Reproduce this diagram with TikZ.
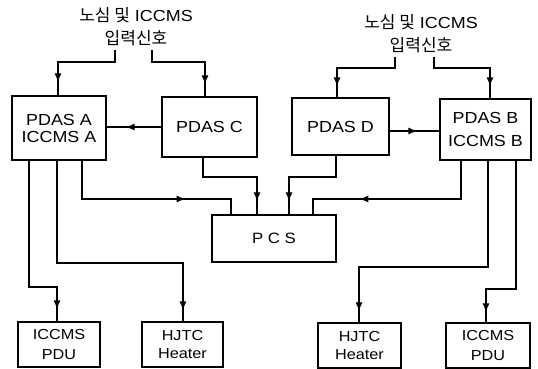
\documentclass[tikz,border=0pt]{standalone}
\usepackage{fontspec}
\setmainfont{Liberation Sans}[FakeStretch=1.12]
\newfontfamily\kr{Noto Sans CJK KR}
\usetikzlibrary{arrows.meta,decorations.markings}
\begin{document}
\begin{tikzpicture}[x=1pt,y=-1pt,
 box/.style={draw, line width=1.3pt, inner sep=0pt, align=center, font=\fontsize{16}{17}\selectfont},
 smallbox/.style={box, font=\fontsize{14.5}{20}\selectfont},
 conn/.style={line width=1.2pt},
 arrowat/.style={postaction={decorate}, decoration={markings, mark=at position #1 with {\arrow{Latex[length=9pt,width=7pt]}}}},
 lbl/.style={align=center, inner sep=0pt, font=\fontsize{16}{23}\selectfont}]
\useasboundingbox (0,0) rectangle (538,369);

% input labels
\node[lbl] (inL) at (136,27) {{\kr\fontsize{17}{23}\selectfont 노심 및} ICCMS\\{\kr\fontsize{17}{23}\selectfont 입력신호}};
\node[lbl] (inR) at (421,33.5) {{\kr\fontsize{17}{23}\selectfont 노심 및} ICCMS\\{\kr\fontsize{17}{23}\selectfont 입력신호}};
\coordinate (inLa) at (115,50);
\coordinate (inLb) at (152,50);
\coordinate (inRa) at (395,57);
\coordinate (inRb) at (434,57);

% boxes
\node[box, minimum width=94pt, minimum height=64pt] (pdasA) at (59,128) {PDAS A\\ICCMS A};
\node[box, minimum width=95pt, minimum height=60pt] (pdasC) at (209.5,127) {PDAS C};
\node[box, minimum width=97pt, minimum height=57pt] (pdasD) at (340.5,126.5) {PDAS D};
\node[box, minimum width=91pt, minimum height=61pt, font=\fontsize{16}{23}\selectfont] (pdasB) at (485.5,129.5) {PDAS B\\ICCMS B};
\node[box, minimum width=124pt, minimum height=47pt, font=\fontsize{15}{17}\selectfont] (pcs) at (274,238.5) {P C S};
\node[smallbox, minimum width=82pt, minimum height=45pt] (pduL) at (59,344.5) {ICCMS\\PDU};
\node[smallbox, minimum width=81pt, minimum height=45pt, font=\fontsize{14.5}{18}\selectfont] (hjtcL) at (182.5,344.5) {HJTC\\Heater};
\node[smallbox, minimum width=83pt, minimum height=45pt, font=\fontsize{14.5}{18}\selectfont] (hjtcR) at (359.5,345.5) {HJTC\\Heater};
\node[smallbox, minimum width=84pt, minimum height=45pt] (pduR) at (488,345.5) {ICCMS\\PDU};

% input connectors
\draw[conn,arrowat=-13pt] (inLa) -- (115,62) -| (58,0 |- pdasA.north);
\draw[conn,arrowat=-12pt] (inLb) -- (152,62) -| (205,0 |- pdasC.north);
\draw[conn,arrowat=-11pt] (inRa) -- (395,68) -| (337,0 |- pdasD.north);
\draw[conn,arrowat=-12pt] (inRb) -- (434,68) -| (490,0 |- pdasB.north);

% lateral connectors
\draw[conn,arrowat=-19pt] (pdasC.west |- 0,127) -- (pdasA.east |- 0,127);
\draw[conn,arrowat=-22pt] (pdasD.east |- 0,131) -- (pdasB.west |- 0,131);

% to PCS
\draw[conn,arrowat=142pt] (82,0 |- pdasA.south) -- (82,199) -| (231,0 |- pcs.north);
\draw[conn,arrowat=-13pt] (203,0 |- pdasC.south) -- (203,177) -| (257,0 |- pcs.north);
\draw[conn,arrowat=-13pt] (336,0 |- pdasD.south) -- (336,177) -| (289,0 |- pcs.north);
\draw[conn,arrowat=140pt] (461,0 |- pdasB.south) -- (461,199) -| (313,0 |- pcs.north);

% to bottom boxes
\draw[conn,arrowat=-12pt] (29,0 |- pdasA.south) -- (29,287) -| (57,0 |- pduL.north);
\draw[conn,arrowat=-11pt] (57,0 |- pdasA.south) -- (57,263) -| (183,0 |- hjtcL.north);
\draw[conn,arrowat=-11pt] (488,0 |- pdasB.south) -- (488,267) -| (359,0 |- hjtcR.north);
\draw[conn,arrowat=-10pt] (516,0 |- pdasB.south) -- (516,289) -| (486,0 |- pduR.north);
\end{tikzpicture}
\end{document}
